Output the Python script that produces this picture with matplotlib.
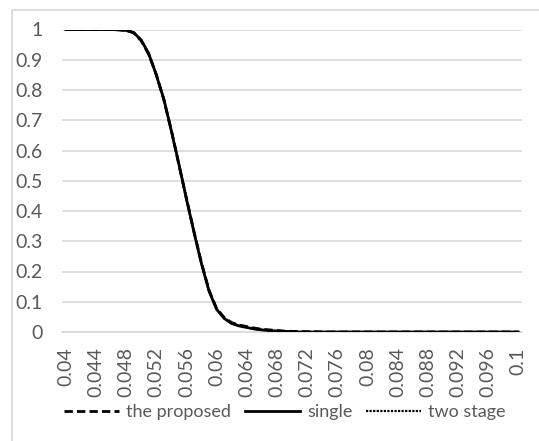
import numpy as np
import matplotlib
matplotlib.use("Agg")
import matplotlib.pyplot as plt
from matplotlib.patches import Rectangle

# categories: 0.040 .. 0.100 in steps of 0.001
x = np.arange(40, 101) / 1000.0
tick_labels = ["0.04", "0.044", "0.048", "0.052", "0.056", "0.06", "0.064", "0.068",
               "0.072", "0.076", "0.08", "0.084", "0.088", "0.092", "0.096", "0.1"]

single = [1, 1, 1, 1, 1, 1, 1,
          0.999, 0.997, 0.99, 0.965, 0.92, 0.85, 0.77, 0.665, 0.555, 0.44,
          0.33, 0.225, 0.135, 0.075, 0.045, 0.028, 0.02, 0.015, 0.01, 0.007,
          0.005, 0.003, 0.002, 0.001] + [0] * 30
proposed = [1, 1, 1, 1, 1, 1, 1,
            0.999, 0.997, 0.989, 0.963, 0.918, 0.852, 0.768, 0.667, 0.553, 0.442,
            0.332, 0.228, 0.138, 0.078, 0.048, 0.031, 0.023, 0.018, 0.013, 0.009,
            0.007, 0.005, 0.003, 0.002, 0.002, 0.001, 0.001] + [0] * 27
two_stage = [1, 1, 1, 1, 1, 1, 1,
             0.999, 0.996, 0.99, 0.966, 0.921, 0.849, 0.771, 0.664, 0.556, 0.439,
             0.331, 0.226, 0.136, 0.076, 0.046, 0.029, 0.021, 0.015, 0.01, 0.007,
             0.005, 0.003, 0.002, 0.001] + [0] * 30

plt.rcParams['font.family'] = ['Lato', 'DejaVu Sans']
gray_txt = '#595959'
grid_c = '#d9d9d9'

fig = plt.figure(figsize=(5.39, 4.41), dpi=100)
ax = fig.add_axes([62 / 539, 1 - 332 / 441, 460 / 539, (332 - 29.5) / 441])

ax.plot(x, proposed, color='black', lw=2.0, ls=(0, (3, 1.5)), label='the proposed', zorder=3)
ax.plot(x, single, color='black', lw=2.0, ls='-', label='single', zorder=3)
ax.plot(x, two_stage, color='black', lw=1.6, ls=(0, (1, 0.6)), label='two stage', zorder=3)

ax.set_xlim(0.0395, 0.1005)
ax.set_ylim(0, 1)
ax.set_yticks(np.arange(0, 11) / 10)
ax.set_yticklabels(["0", "0.1", "0.2", "0.3", "0.4", "0.5", "0.6", "0.7", "0.8", "0.9", "1"])
ax.set_xticks(x[::4])
ax.set_xticklabels(tick_labels, rotation=90)
ax.tick_params(axis='both', length=0, labelsize=14, labelcolor=gray_txt)
ax.tick_params(axis='y', pad=14)
ax.tick_params(axis='x', pad=11)
ax.grid(axis='y', color=grid_c, lw=1.2)
ax.set_axisbelow(True)
for s in ['top', 'right', 'left']:
    ax.spines[s].set_visible(False)
ax.spines['bottom'].set_color(grid_c)
ax.spines['bottom'].set_linewidth(1.2)

leg = fig.legend(loc='center', bbox_to_anchor=(285 / 539, 1 - 412 / 441), ncol=3, frameon=False,
                 fontsize=13, handlelength=3.05, handletextpad=0.4, columnspacing=0.75)
for t in leg.get_texts():
    t.set_color(gray_txt)

fig.patches.append(Rectangle((11.5 / 539, -0.1), 1.2, 1.1 - 10.5 / 441, transform=fig.transFigure,
                             fill=False, edgecolor=grid_c, lw=1.2))

fig.savefig('out.png', dpi=100)
